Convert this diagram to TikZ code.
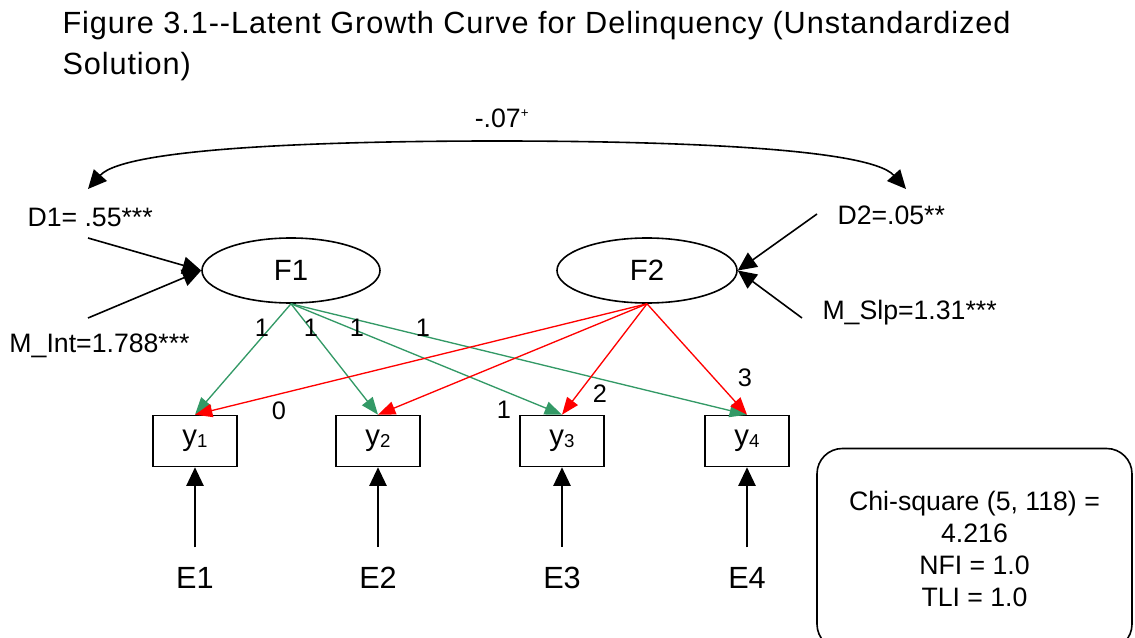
\documentclass[tikz,border=0pt]{standalone}
\usepackage{fontspec}
\setmainfont{Liberation Sans}
\newfontfamily\titlefont[LetterSpace=3]{Liberation Sans}
\usetikzlibrary{shapes.geometric,arrows.meta}

\definecolor{intgreen}{RGB}{51,153,102}
\definecolor{slpred}{RGB}{255,0,0}

\tikzset{every picture/.style={line width=0.75pt}}
\tikzset{
  latent/.style={draw,ellipse,line width=1.2pt,minimum width=133.5pt,minimum height=48.75pt,inner sep=0pt,font=\fontsize{22}{26}\selectfont},
  observed/.style={draw,rectangle,line width=1.2pt,minimum width=63pt,minimum height=38.25pt,inner sep=0pt,font=\fontsize{22}{26}\selectfont},
  errnode/.style={inner sep=0.75pt,font=\fontsize{23}{26}\selectfont},
  valnode/.style={inner sep=0.75pt,font=\fontsize{20}{24}\selectfont},
  loadnode/.style={inner sep=0.75pt,font=\fontsize{19}{22}\selectfont},
  blk/.style={line width=1.2pt,-{Triangle[length=14pt,width=13pt]}},
  intpath/.style={color=intgreen,line width=1pt,-{Triangle[length=13pt,width=10pt]}},
  slppath/.style={color=slpred,line width=1pt,-{Triangle[length=13pt,width=10pt]}},
  fitbox/.style={draw,line width=1.2pt,rounded corners=19pt,minimum width=236.25pt,minimum height=150.75pt,align=center,font=\fontsize{20}{24}\selectfont}
}
\newcommand{\ysub}[1]{y{\fontsize{14}{14}\selectfont\raisebox{-1.5pt}{#1}}}

\begin{document}
\begin{tikzpicture}[x=0.75pt,y=0.75pt,yscale=-1,xscale=1]
\useasboundingbox (0,0) rectangle (1135,638);
\clip (0,0) rectangle (1135,638);

% Text Node
\node[anchor=base west,inner sep=0pt,font=\titlefont\fontsize{23}{26}\selectfont] (title) at (62,34) {Figure 3.1-{}-Latent Growth Curve for Delinquency (Unstandardized};
% Text Node
\node[anchor=base west,inner sep=0pt,font=\titlefont\fontsize{23}{26}\selectfont] (title2) at (62,75) {Solution)};

%Shape: Ellipse
\node[latent] (F1) at (291,270.5) {F1};
\node[latent,minimum width=135pt] (F2) at (647,270.5) {F2};

%Shape: Rectangle
\node[observed] (y1) at (195,441) {\ysub{1}};
\node[observed] (y2) at (378,441) {\ysub{2}};
\node[observed] (y3) at (562,441) {\ysub{3}};
\node[observed] (y4) at (747,441) {\ysub{4}};

% Text Node
\node[errnode] (E1) at (195,578) {E1};
\node[errnode] (E2) at (378,578) {E2};
\node[errnode] (E3) at (562,578) {E3};
\node[errnode] (E4) at (747,578) {E4};

% Text Node
\node[valnode,anchor=west] (D1) at (26,217) {D1= .55***};
\node[valnode,anchor=west] (MInt) at (8,346) {M\_Int=1.788***};
\node[valnode,anchor=west] (D2) at (836,215) {D2=.05**};
\node[valnode,anchor=west] (MSlp) at (821,313) {M\_Slp=1.31***};
\node[valnode] (cov) at (502,118) {-.07\textsuperscript{\fontsize{10}{10}\selectfont+}};

%Free ends
\coordinate (c1) at (88,189);
\coordinate (c2) at (906,189);
\coordinate (d1) at (88,238);
\coordinate (mi) at (88,318);
\coordinate (d2) at (817,214);
\coordinate (ms) at (802,318);

%Curve Lines
\draw[line width=1.2pt,{Triangle[length=14pt,width=13pt]}-{Triangle[length=14pt,width=13pt]}] (c1) .. controls (126,146.5) and (344,141) .. (497,141) .. controls (650,141) and (868,146.5) .. (c2);

%Straight Lines
\draw[blk] (d1) -- (F1.west);
\draw[blk] (mi) -- (F1.west);
\draw[blk] (d2) -- (F2.east);
\draw[blk] (ms) -- (F2.east);

%Straight Lines
\draw[intpath] (F1.south) -- (y1.north);
\draw[intpath] (F1.south) -- (y2.north);
\draw[intpath] (F1.south) -- (y3.north);
\draw[intpath] (F1.south) -- (y4.north);
%Straight Lines
\draw[slppath] (F2.south) -- (y1.north);
\draw[slppath] (F2.south) -- (y2.north);
\draw[slppath] (F2.south) -- (y3.north);
\draw[slppath] (F2.south) -- (y4.north);

%Straight Lines
\draw[blk,shorten <=14pt] (E1) -- (y1.south);
\draw[blk,shorten <=14pt] (E2) -- (y2.south);
\draw[blk,shorten <=14pt] (E3) -- (y3.south);
\draw[blk,shorten <=14pt] (E4) -- (y4.south);

% Text Node
\node[loadnode] (l1) at (262,328) {1};
\node[loadnode] (l2) at (311,328) {1};
\node[loadnode] (l3) at (357,328) {1};
\node[loadnode] (l4) at (423,328) {1};
% Text Node
\node[loadnode] (s1) at (279,411) {0};
\node[loadnode] (s2) at (504,410) {1};
\node[loadnode] (s3) at (600,394) {2};
\node[loadnode] (s4) at (745,378) {3};

%Shape: Rounded Rectangle
\node[fitbox] (fit) at (974.5,549) {Chi-square (5, 118) =\\4.216\\NFI = 1.0\\TLI = 1.0};

\end{tikzpicture}
\end{document}
